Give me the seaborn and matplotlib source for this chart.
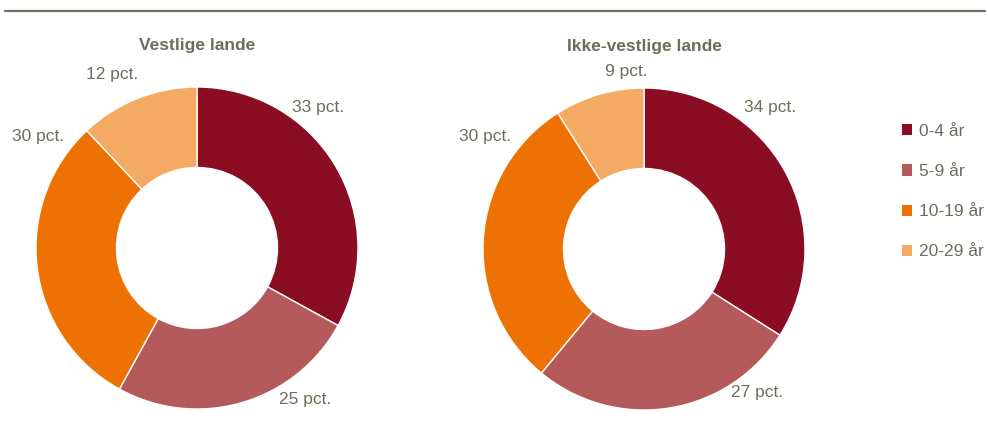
import numpy as np
import matplotlib
matplotlib.use("Agg")
import matplotlib.pyplot as plt
import seaborn as sns
from matplotlib.lines import Line2D
from matplotlib.patches import Patch

# data
age_groups = ["0-4 år", "5-9 år", "10-19 år", "20-29 år"]
vestlige = [33, 25, 30, 12]
ikke_vestlige = [34, 27, 30, 9]
titles = ["Vestlige lande", "Ikke-vestlige lande"]

# label positions (in units of pie radius, relative to centre)
label_pos_left = [(0.75, 0.87), (0.67, -0.94), (-0.99, 0.69), (-0.53, 1.08)]
label_pos_right = [(0.78, 0.88), (0.70, -0.89), (-0.99, 0.70), (-0.11, 1.10)]

colors = ["#8B0D24", "#B55A5A", "#EE7203", "#F5AA64"]
txt_col = "#6E6C5C"

sns.set_theme(style="white")
plt.rcParams["font.family"] = ["Liberation Sans", "DejaVu Sans"]

fig = plt.figure(figsize=(9.88, 4.32), dpi=100)

W, H = 988, 432
R = 161
half = 1.2

def make_ax(cx, cy):
    # axes so that one data unit = R pixels
    left = (cx - half * R) / W
    bottom = (H - (cy + 1.1 * R)) / H
    ax = fig.add_axes([left, bottom, 2 * half * R / W, 2.4 * R / H])
    ax.set_xlim(-half, half)
    ax.set_ylim(-1.1, 1.3)
    ax.set_axis_off()
    return ax

ax1 = make_ax(197, 248)
ax2 = make_ax(644, 249)

for ax, vals, title, lpos in [(ax1, vestlige, titles[0], label_pos_left),
                              (ax2, ikke_vestlige, titles[1], label_pos_right)]:
    wedges, _ = ax.pie(vals, colors=colors, startangle=90, counterclock=False,
                       radius=1, frame=True,
                       wedgeprops=dict(width=0.5, edgecolor="white", linewidth=1))
    ax.set_xlim(-half, half)
    ax.set_ylim(-1.1, 1.3)
    ax.set_axis_off()
    ax.set_aspect("auto")
    for v, (x, y) in zip(vals, lpos):
        ax.text(x, y, f"{v} pct.", ha="center", va="center", fontsize=12.5, color=txt_col)
    ax.text(0, 1.26, title, ha="center", va="center", fontsize=12.5,
            fontweight="bold", color=txt_col)

handles = [Patch(facecolor=c, edgecolor="none") for c in colors]
leg = fig.legend(handles, age_groups, loc="upper left", bbox_to_anchor=(895 / W, 1 - 117 / H),
                 frameon=False, fontsize=12.5, handlelength=0.6, handleheight=0.6,
                 handletextpad=0.4, labelspacing=1.45, borderaxespad=0)
for t in leg.get_texts():
    t.set_color(txt_col)

# top rule
fig.add_artist(Line2D([5 / W, 985 / W], [1 - 11 / H, 1 - 11 / H], color="#727060", lw=1.6,
                      transform=fig.transFigure))

fig.savefig("out.png", dpi=100, facecolor="white")
